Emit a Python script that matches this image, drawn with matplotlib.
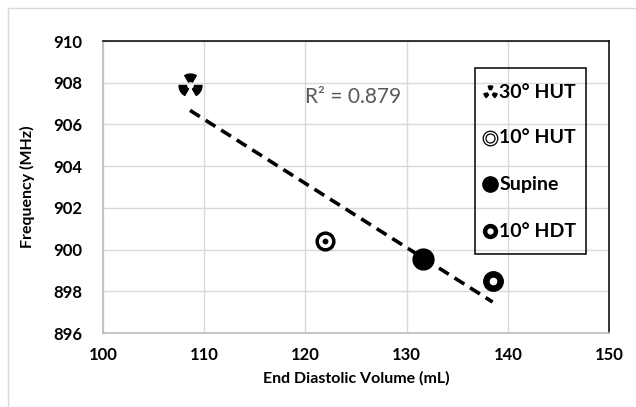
import numpy as np
import matplotlib
matplotlib.use("Agg")
import matplotlib.pyplot as plt
from matplotlib.path import Path
from matplotlib.patches import Rectangle

plt.rcParams['font.family'] = ['Lato', 'DejaVu Sans']

# ----------------------------------------------------------------------
# Data
# ----------------------------------------------------------------------
positions = ["30° HUT", "10° HUT", "Supine", "10° HDT"]
edv_ml = [108.6, 121.9, 131.6, 138.5]
freq_mhz = [907.9, 900.4, 899.55, 898.5]
r2_label = "R² = 0.879"

x_ticks = [100, 110, 120, 130, 140, 150]
y_ticks = [896, 898, 900, 902, 904, 906, 908, 910]


def trefoil(inner=0.35, width=60):
    """Radiation-style marker: three annular wedges."""
    verts, codes = [], []
    for c in (90, 210, 330):
        angs = np.radians(np.linspace(c - width / 2, c + width / 2, 9))
        outer = list(zip(np.cos(angs), np.sin(angs)))
        inn = list(zip(inner * np.cos(angs[::-1]), inner * np.sin(angs[::-1])))
        pts = outer + inn
        verts += pts + [pts[0]]
        codes += [Path.MOVETO] + [Path.LINETO] * (len(pts) - 1) + [Path.CLOSEPOLY]
    return Path(verts, codes)


TREFOIL = trefoil()

fig = plt.figure(figsize=(6.36, 4.07), dpi=100)
ax = fig.add_axes([103 / 636, 74 / 407, 506 / 636, 292 / 407])

# outer chart border (only left/top visible in the crop)
fig.patches.append(Rectangle((8 / 636, -0.1), 1.2, 1.1 - 8 / 407, transform=fig.transFigure,
                             fill=False, edgecolor="#d9d9d9", linewidth=1.0))

ax.set_xlim(100, 150)
ax.set_ylim(896, 910)
ax.set_xticks(x_ticks)
ax.set_yticks(y_ticks)
ax.grid(True, color="#d9d9d9", linewidth=1.0)
ax.set_axisbelow(True)
ax.tick_params(length=0, labelsize=12)
ax.tick_params(axis="y", pad=15)
ax.tick_params(axis="x", pad=10)
for lbl in ax.get_xticklabels() + ax.get_yticklabels():
    lbl.set_fontweight("bold")

for side in ("left", "bottom"):
    ax.spines[side].set_color("#bfbfbf")
    ax.spines[side].set_linewidth(1.3)
for side in ("top", "right"):
    ax.spines[side].set_color("black")
    ax.spines[side].set_linewidth(1.1)

ax.set_xlabel("End Diastolic Volume (mL)", fontsize=11.5, fontweight="bold", labelpad=6)
ax.set_ylabel("Frequency (MHz)", fontsize=11.5, fontweight="bold", labelpad=13)

# linear trendline
coef = np.polyfit(edv_ml, freq_mhz, 1)
xs = np.array([min(edv_ml), max(edv_ml)])
ax.plot(xs, np.polyval(coef, xs), color="black", linewidth=2.6, linestyle=(0, (3.2, 1.9)),
        dash_capstyle="butt", zorder=2)

# markers
ax.plot(edv_ml[0], freq_mhz[0], marker=TREFOIL, markersize=16.5, color="black", linestyle="none", zorder=3)
# bullseye
ax.plot(edv_ml[1], freq_mhz[1], "o", markersize=13.5, color="black", zorder=3)
ax.plot(edv_ml[1], freq_mhz[1], "o", markersize=8.5, color="white", zorder=4)
ax.plot(edv_ml[1], freq_mhz[1], "o", markersize=3.2, color="black", zorder=5)
# supine
ax.plot(edv_ml[2], freq_mhz[2], "o", markersize=15, color="black", zorder=3)
# ring
ax.plot(edv_ml[3], freq_mhz[3], "o", markersize=14, color="black", zorder=3)
ax.plot(edv_ml[3], freq_mhz[3], "o", markersize=4.5, color="white", zorder=4)

ax.text(120.0, 907.3, r2_label, fontsize=15, color="#595959", va="center", ha="left")

# legend box drawn by hand
ax.add_patch(Rectangle((0.735, 0.2705), 0.2195, 0.637, transform=ax.transAxes, fill=False,
                       edgecolor="black", linewidth=1.1, zorder=6))
leg_y = [0.825, 0.668, 0.510, 0.349]
mx, tx = 0.765, 0.783
kw = dict(transform=ax.transAxes, linestyle="none", zorder=7)
ax.plot(mx, leg_y[0], marker=trefoil(inner=0.45, width=40), markersize=9.5, color="black", **kw)
ax.plot(mx, leg_y[1], "o", markersize=10.5, markerfacecolor="white", markeredgecolor="black",
        markeredgewidth=0.9, **kw)
ax.plot(mx, leg_y[1], "o", markersize=6.5, markerfacecolor="white", markeredgecolor="black",
        markeredgewidth=0.9, **kw)
ax.plot(mx, leg_y[2], "o", markersize=11, color="black", **kw)
ax.plot(mx, leg_y[3], "o", markersize=10, color="black", **kw)
ax.plot(mx, leg_y[3], "o", markersize=3.5, color="white", **kw)
for name, y in zip(positions, leg_y):
    ax.text(tx, y, name, transform=ax.transAxes, fontsize=14, fontweight="bold",
            va="center", ha="left", zorder=7)

fig.savefig("out.png", dpi=100)
